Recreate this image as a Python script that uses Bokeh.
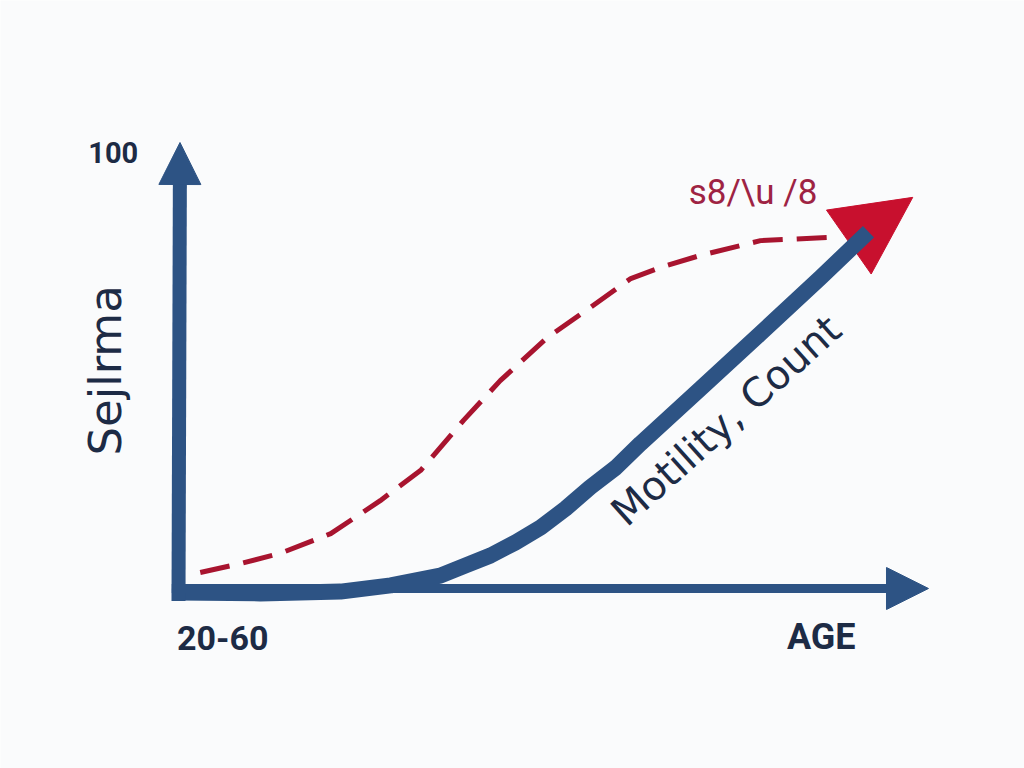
from bokeh.plotting import figure
from bokeh.models import Range1d, Arrow, NormalHead, Label
from bokeh.embed import file_html
from bokeh.resources import INLINE

# ---- data (x = age scale 0..100, y = value scale 0..100) ----
motility_x = [0, 10.9, 21.6, 28.3, 34.9, 38.3, 41.6, 44.9, 48.3, 51.6, 54.9, 58.3,
              61.6, 69.6, 77.6, 85.6, 92]
motility_y = [-0.9, -1.1, -0.7, 0.7, 2.9, 5.2, 7.4, 10.3, 13.7, 17.9, 22.7, 27.1,
              32.5, 44.8, 57.2, 69.7, 80.0]

trend_x = [2.9, 8.3, 13.6, 20.3, 26.9, 32.3, 38, 42.9, 49.2, 54.9, 60.3, 64.3, 69.6, 77.6, 86.5]
trend_y = [3.6, 5.6, 7.9, 12.3, 19.7, 26.5, 37.7, 46.6, 56.3, 63, 69.5, 72, 74.7, 78, 78.7]

y_tick_labels = ["100"]
x_tick_labels = ["20-60"]
y_title = "Sejlrma"
x_title = "AGE"
trend_label = "s8/\\u /8"
curve_label = "Motility, Count"

BLUE = "#2d5384"
NAVY = "#1d2b45"
RED = "#a8142f"
RED_HEAD = "#c8102e"
BG = "#fafbfc"

p = figure(width=1024, height=768, output_backend="svg", toolbar_location=None,
           x_axis_type=None, y_axis_type=None, min_border=0,
           x_range=Range1d(-23.733, 112.8), y_range=Range1d(-40.36, 131.84))
p.grid.visible = False
p.outline_line_color = None
p.background_fill_color = BG
p.border_fill_color = BG

# red arrow head at end of the trend
red_head = Arrow(end=NormalHead(size=78, fill_color=RED_HEAD, line_color=RED_HEAD, line_width=1),
                 x_start=90.5, y_start=79.0, x_end=97.9, y_end=87.7,
                 line_color=RED_HEAD, line_width=1, line_alpha=0.0)
red_head.level = "underlay"
p.add_layout(red_head)

# axes as arrows
v_axis = Arrow(end=NormalHead(size=42, fill_color=BLUE, line_color=BLUE, line_width=1),
               x_start=0, y_start=-2.8, x_end=0.2, y_end=100,
               line_color=BLUE, line_width=14)
h_axis = Arrow(end=NormalHead(size=42, fill_color=BLUE, line_color=BLUE, line_width=1),
               x_start=-0.9, y_start=0, x_end=100, y_end=0,
               line_color=BLUE, line_width=9)
p.add_layout(v_axis)
p.add_layout(h_axis)

# red dashed trend
p.line(trend_x, trend_y, line_color=RED, line_width=5, line_dash="30 14", line_join="round")

# blue curve
p.line(motility_x, motility_y, line_color=BLUE, line_width=16, line_join="round", line_cap="butt")

# texts
p.add_layout(Label(x=-8.7, y=97.8, text=y_tick_labels[0], text_font="Roboto",
                   text_font_style="bold", text_font_size="29px", text_color=NAVY,
                   text_align="center", text_baseline="middle"))
p.add_layout(Label(x=-9.7, y=48.9, text=y_title, text_font="DejaVu Sans",
                   text_font_size="45px", text_color=NAVY, text_align="center",
                   text_baseline="middle", angle=1.5708))
p.add_layout(Label(x=5.9, y=-11.2, text=x_tick_labels[0], text_font="Roboto",
                   text_font_style="bold", text_font_size="34px", text_color=NAVY,
                   text_align="center", text_baseline="middle"))
p.add_layout(Label(x=85.7, y=-10.8, text=x_title, text_font="Roboto",
                   text_font_style="bold", text_font_size="36px", text_color=NAVY,
                   text_align="center", text_baseline="middle"))
p.add_layout(Label(x=76.6, y=88.7, text=trend_label, text_font="Roboto",
                   text_font_size="35px", text_color="#9e2343", text_align="center",
                   text_baseline="middle"))
p.add_layout(Label(x=73.0, y=37.7, text=curve_label, text_font="DejaVu Sans",
                   text_font_size="40px", text_color=NAVY, text_align="center",
                   text_baseline="middle", angle=0.731))

open("out.html", "w").write(file_html(p, INLINE))
